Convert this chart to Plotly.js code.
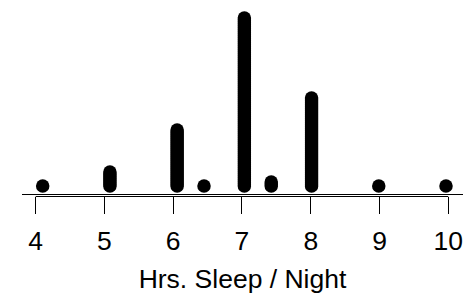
<!DOCTYPE html>
<html>
<head>
<meta charset="utf-8">
<script src="https://cdn.plot.ly/plotly-3.0.1.min.js"></script>
<style>html,body{margin:0;padding:0;background:#fff;}#chart{width:474px;height:294px;}</style>
</head>
<body>
<div id="chart"></div>
<script>
// Hours of sleep per night: value and number of stacked dots
const hours  = [4, 5, 6, 6.4, 7, 7.4, 8, 9, 10];
const counts = [1, 8, 29, 1, 85, 3, 45, 1, 1];
const tickVals = [4, 5, 6, 7, 8, 9, 10];
const tickText = ['4', '5', '6', '7', '8', '9', '10'];
const xTitle = 'Hrs. Sleep / Night';

const xs = [], ys = [];
hours.forEach((h, i) => {
  for (let k = 0; k < counts[i]; k++) { xs.push(h); ys.push(k); }
});

const trace = {
  x: xs, y: ys, xaxis: 'x2', yaxis: 'y',
  type: 'scatter', mode: 'markers',
  marker: {size: 13.5, color: '#000', line: {width: 0}},
  cliponaxis: false, hoverinfo: 'x'
};

const font = {family: 'Liberation Sans, Arial, sans-serif', color: '#000'};

const layout = {
  width: 474, height: 294,
  margin: {l: 22, r: 11, t: 0, b: 98},
  paper_bgcolor: '#fff', plot_bgcolor: '#fff',
  showlegend: false,
  font: font,
  xaxis: {
    range: [3.801, 10.214], tickmode: 'array', tickvals: tickVals, ticktext: tickText,
    ticks: 'outside', ticklen: 17, tickwidth: 1, tickcolor: '#000',
    showgrid: false, zeroline: false, showline: false,
    tickfont: {size: 26.5, family: font.family, color: '#000'},
    ticklabelstandoff: 4,
    title: {text: xTitle, font: {size: 26.5, family: font.family, color: '#000'}, standoff: 16}
  },
  xaxis2: {
    range: [3.692, 10.253], overlaying: 'x', visible: false, showgrid: false, zeroline: false
  },
  yaxis: {range: [-5, 93], visible: false, showgrid: false, zeroline: false},
  shapes: [
    {type: 'line', xref: 'paper', yref: 'paper', x0: 0, x1: 1, y0: 1.5/196, y1: 1.5/196,
     line: {color: '#000', width: 1}},
    {type: 'line', xref: 'x', yref: 'paper', x0: 4, x1: 10, y0: -0.5/196, y1: -0.5/196,
     line: {color: '#000', width: 1}}
  ]
};

Plotly.newPlot('chart', [trace], layout, {staticPlot: true, displayModeBar: false});
</script>
</body>
</html>
